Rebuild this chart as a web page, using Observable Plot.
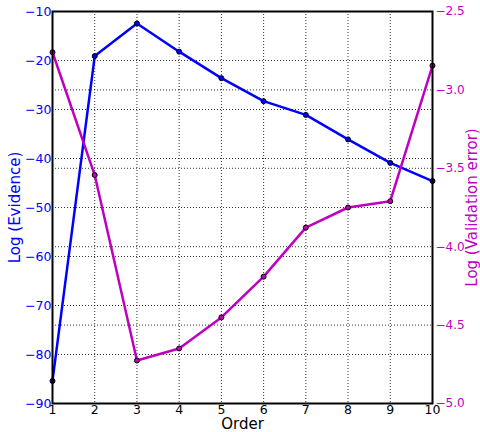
<!DOCTYPE html>
<html><head><meta charset="utf-8">
<script src="https://cdn.jsdelivr.net/npm/d3@7"></script>
<script src="https://cdn.jsdelivr.net/npm/@observablehq/plot@0.6"></script>
<style>
body{margin:0;background:#fff;}
svg{font-family:"DejaVu Sans",sans-serif;}
</style></head>
<body><div id="chart"></div>
<script>
const orders = [1,2,3,4,5,6,7,8,9,10];
const logEvidence = [-85.4,-19.1,-12.45,-18.2,-23.6,-28.3,-31.1,-36.1,-40.9,-44.6];
const logValErr = [-2.76,-3.543,-4.726,-4.649,-4.451,-4.191,-3.878,-3.75,-3.71,-2.845];
const leftTicks = [-90,-80,-70,-60,-50,-40,-30,-20,-10];
const rightTicks = [-5.0,-4.5,-4.0,-3.5,-3.0,-2.5];
const xTicks = [1,2,3,4,5,6,7,8,9,10];

const L0=-90, L1=-10, R0=-5.0, R1=-2.5;
const toLeft = v => L0 + (v-R0)/(R1-R0)*(L1-L0);
const fromLeft = y => R0 + (y-L0)/(L1-L0)*(R1-R0);

const blue="#0000ff", mag="#bf00bf";
const evid = orders.map((o,i)=>({x:o,y:logEvidence[i]}));
const verr = orders.map((o,i)=>({x:o,y:toLeft(logValErr[i])}));
const fmtMinus = s => s.replace("-", "\u2212");

const chart = Plot.plot({
  width:480, height:432,
  marginLeft:52, marginRight:48, marginTop:11, marginBottom:29,
  x:{domain:[1,10]},
  y:{domain:[L0,L1]},
  style:{fontFamily:"DejaVu Sans, sans-serif", fontSize:"12px", background:"white"},
  marks:[
    Plot.gridX(xTicks.slice(1,-1), {stroke:"#000", strokeOpacity:0.8, strokeDasharray:"1,2"}),
    Plot.gridY(leftTicks.slice(1,-1), {stroke:"#000", strokeOpacity:0.8, strokeDasharray:"1,2"}),
    Plot.gridY(rightTicks.slice(1,-1).map(toLeft), {stroke:"#000", strokeOpacity:0.8, strokeDasharray:"1,2"}),
    Plot.axisX(xTicks, {tickSize:0, tickPadding:2, fill:"#000", fontSize:12.5, label:null}),
    Plot.axisY(leftTicks, {anchor:"left", tickSize:0, tickPadding:1, fill:blue, fontSize:12.5, label:null, tickFormat:d=>fmtMinus(String(d))}),
    Plot.axisY(rightTicks.map(toLeft), {anchor:"right", tickSize:0, tickPadding:3, fill:mag, fontSize:12, label:null, tickFormat:d=>fmtMinus(fromLeft(d).toFixed(1))}),
    Plot.line(evid, {x:"x", y:"y", stroke:blue, strokeWidth:2.5}),
    Plot.line(verr, {x:"x", y:"y", stroke:mag, strokeWidth:2.5}),
    Plot.dot(evid, {x:"x", y:"y", r:2.5, fill:blue, stroke:"#000", strokeWidth:1}),
    Plot.dot(verr, {x:"x", y:"y", r:2.5, fill:mag, stroke:"#000", strokeWidth:1}),
    Plot.frame({stroke:"#000", strokeWidth:2}),
    Plot.text(["Order"], {frameAnchor:"bottom", dy:21, fontSize:15, fill:"#000", textAnchor:"middle", lineAnchor:"middle"}),
    Plot.text(["Log (Evidence)"], {frameAnchor:"left", dx:-37, rotate:-90, fontSize:15, fill:blue, textAnchor:"middle", lineAnchor:"middle"}),
    Plot.text(["Log (Validation error)"], {frameAnchor:"right", dx:39.5, rotate:-90, fontSize:15, fill:mag, textAnchor:"middle", lineAnchor:"middle"})
  ]
});
document.getElementById("chart").appendChild(chart);
</script>
</body></html>
